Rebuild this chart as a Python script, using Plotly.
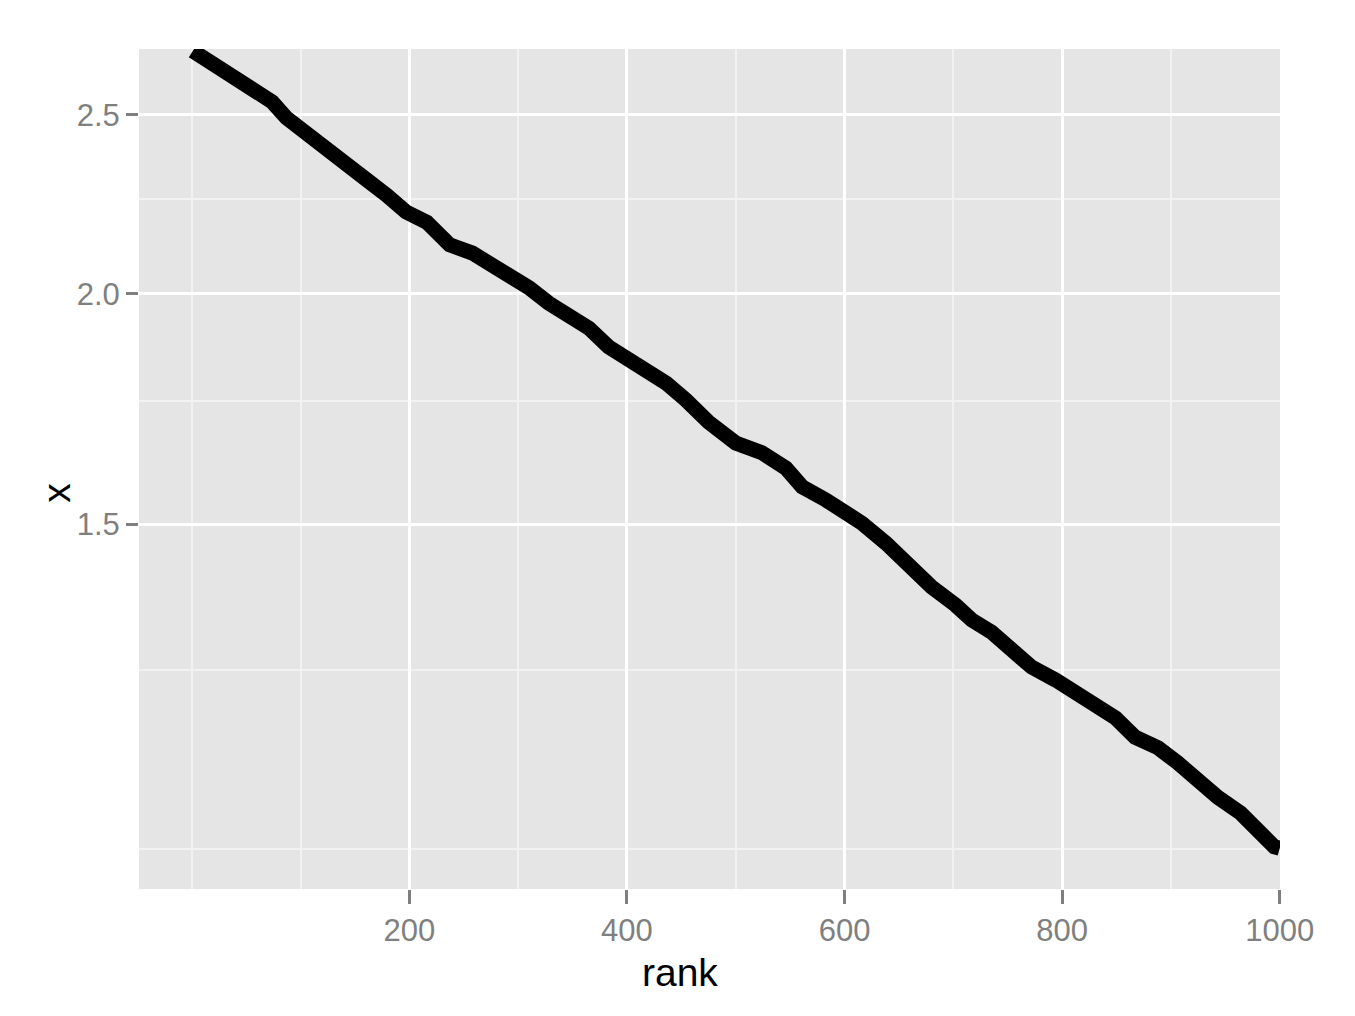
import plotly.graph_objects as go

# Values
rank = [1, 23, 41, 56, 74, 87, 106, 124, 142, 161, 179, 197, 216, 237, 258, 273,
        292, 310, 328, 347, 365, 383, 405, 423, 436, 454, 475, 500, 524, 546, 561,
        583, 601, 616, 638, 659, 680, 702, 717, 735, 753, 772, 794, 812, 830, 849,
        867, 888, 906, 925, 943, 964, 980, 995, 1000]
x_val = [2.708, 2.654, 2.621, 2.579, 2.541, 2.491, 2.444, 2.402, 2.363, 2.305,
         2.262, 2.215, 2.187, 2.126, 2.104, 2.078, 2.055, 2.015, 1.977, 1.943,
         1.916, 1.872, 1.835, 1.814, 1.789, 1.752, 1.704, 1.660, 1.640, 1.609,
         1.572, 1.546, 1.523, 1.502, 1.465, 1.422, 1.387, 1.356, 1.331, 1.311,
         1.287, 1.255, 1.235, 1.217, 1.197, 1.178, 1.150, 1.135, 1.114, 1.086,
         1.067, 1.046, 1.020, 1.003, 1.001]

x_ticks = [200, 400, 600, 800, 1000]
x_minor = [0, 100, 300, 500, 700, 900]
y_ticks = [1.5, 2.0, 2.5]
y_tick_labels = ["1.5", "2.0", "2.5"]
y_minor = [1.0, 1.25, 1.75, 2.25]

fig = go.Figure()
fig.add_trace(go.Scatter(
    x=rank, y=x_val, mode="lines",
    line=dict(color="black", width=15, shape="linear"),
    showlegend=False, hoverinfo="skip",
))

tickfont = dict(family="Liberation Sans, Arial, sans-serif", size=31, color="#7F7F7F")

fig.update_layout(
    width=1355, height=1016,
    margin=dict(l=131, r=83, t=41, b=135),
    paper_bgcolor="white",
    plot_bgcolor="#E5E5E5",
    font=dict(family="Liberation Sans, Arial, sans-serif"),
    xaxis=dict(
        range=[-48.5, 1000.2],
        tickmode="array", tickvals=x_ticks,
        ticktext=[str(t) for t in x_ticks],
        ticks="outside", ticklen=14, tickwidth=3, tickcolor="#7F7F7F",
        tickfont=tickfont,
        showgrid=True, gridcolor="white", gridwidth=3,
        zeroline=False, showline=False,
        minor=dict(tickmode="array", tickvals=x_minor, showgrid=True,
                   gridcolor="#F2F2F2", gridwidth=1.5, ticks=""),
    ),
    yaxis=dict(
        type="log",
        range=[-0.0216, 0.4337],
        tickmode="array", tickvals=y_ticks, ticktext=y_tick_labels,
        ticks="outside", ticklen=12, tickwidth=3, tickcolor="#7F7F7F",
        tickfont=tickfont,
        showgrid=True, gridcolor="white", gridwidth=3,
        zeroline=False, showline=False,
        minor=dict(tickmode="array", tickvals=y_minor, showgrid=True,
                   gridcolor="#F2F2F2", gridwidth=1.5, ticks=""),
    ),
    annotations=[
        dict(text="rank", xref="paper", yref="paper", x=0.474, y=-0.072,
             xanchor="center", yanchor="top", showarrow=False,
             font=dict(family="Liberation Sans, Arial, sans-serif", size=39, color="black")),
        dict(text="x", xref="paper", yref="paper", x=-0.073, y=0.4714,
             xanchor="center", yanchor="middle", showarrow=False, textangle=-90,
             font=dict(family="Liberation Sans, Arial, sans-serif", size=39, color="black")),
    ],
)

fig.write_html("out.html")
